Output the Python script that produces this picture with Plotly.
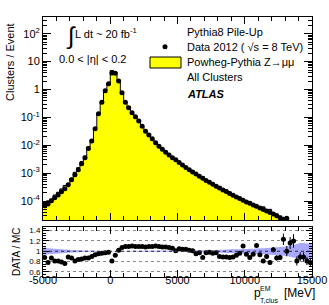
import numpy as np
import plotly.graph_objects as go

# ---------------- data ----------------
bin_edges = np.arange(-5000, 15001, 250)
centers = (bin_edges[:-1] + bin_edges[1:]) / 2

data_vals = [
    6.8e-5, 7.9e-5, 1.02e-4, 1.32e-4, 1.66e-4, 2.14e-4, 2.75e-4, 3.8e-4, 5.75e-4, 8.7e-4,
    1.32e-3, 2.19e-3, 3.55e-3, 7.6e-3, 1.41e-2, 3.9e-2, 0.135, 0.35, 0.91, 1.6,
    3.9, 3.8, 2.0, 0.76, 0.35, 0.22, 0.148, 0.105, 0.074, 0.048,
    0.032, 0.0234, 0.0170, 0.0123, 0.0093, 0.0072, 0.0056, 0.0045, 0.0036, 0.0030,
    0.0024, 0.00195, 0.00158, 0.00132, 0.00110, 9.3e-4, 7.8e-4, 6.6e-4, 5.5e-4, 4.7e-4,
    4.0e-4, 3.4e-4, 2.95e-4, 2.5e-4, 2.2e-4, 1.86e-4, 1.62e-4, 1.41e-4, 1.23e-4, 1.07e-4,
    9.3e-5, 8.3e-5, 7.2e-5, 6.5e-5, 5.6e-5, 5.0e-5, 4.4e-5, 3.9e-5, 3.4e-5, 2.95e-5,
    2.5e-5, 2.2e-5, 2.4e-5, 1.65e-5, 1.5e-5, 1.2e-5, 1.1e-5, 9e-6, 8e-6, 7e-6,
]

ratio_vals = [
    0.88, 0.78, 0.87, 0.81, 0.81, 0.79, 0.76, 0.89, 0.87, 0.81,
    0.84, 0.85, 0.87, 0.87, 0.90, 0.93, 0.95, 0.96, 0.97, 0.98,
    0.81, 0.92, 1.02, 1.07, 1.09, 1.09, 1.10, 1.09, 1.09, 1.09,
    1.08, 1.09, 1.09, 1.10, 1.09, 1.08, 1.08, 1.07, 1.06, 1.01,
    1.05, 1.04, 1.04, 1.02, 1.01, 0.95, 0.97, 0.88, 0.97, 0.98,
    0.96, 0.97, 0.90, 0.89, 0.89, 0.88, 0.89, 0.92, 0.96, 1.10,
    0.94, 0.88, 0.94, 1.11, 0.93, 0.81, 0.90, 0.78, 1.03, 0.87,
    0.88, 1.23, 1.00, 1.16, 1.20, 0.81, 0.89, 0.89, 0.81, 0.78,
]

data_stat_rel = [
    0.03, 0.03, 0.025, 0.025, 0.02, 0.02, 0.02, 0.015, 0.015, 0.012,
    0.01, 0.01, 0.008, 0.006, 0.005, 0.004, 0.003, 0.003, 0.003, 0.003,
    0.003, 0.003, 0.003, 0.003, 0.003, 0.003, 0.003, 0.004, 0.004, 0.005,
    0.005, 0.006, 0.006, 0.007, 0.007, 0.008, 0.008, 0.009, 0.009, 0.01,
    0.01, 0.011, 0.012, 0.013, 0.014, 0.015, 0.016, 0.017, 0.018, 0.019,
    0.02, 0.021, 0.022, 0.023, 0.024, 0.025, 0.026, 0.027, 0.028, 0.03,
    0.03, 0.03, 0.035, 0.035, 0.04, 0.04, 0.045, 0.045, 0.05, 0.055,
    0.06, 0.09, 0.1, 0.1, 0.11, 0.11, 0.1, 0.1, 0.1, 0.1,
]

mc_band_rel = [
    0.07, 0.06, 0.055, 0.05, 0.045, 0.04, 0.035, 0.03, 0.025, 0.02,
    0.018, 0.015, 0.012, 0.01, 0.01, 0.008, 0.006, 0.005, 0.005, 0.005,
    0.005, 0.005, 0.005, 0.005, 0.006, 0.006, 0.007, 0.007, 0.008, 0.008,
    0.008, 0.009, 0.009, 0.009, 0.01, 0.01, 0.01, 0.011, 0.011, 0.012,
    0.012, 0.013, 0.014, 0.015, 0.016, 0.017, 0.018, 0.019, 0.02, 0.022,
    0.024, 0.026, 0.028, 0.03, 0.032, 0.034, 0.036, 0.038, 0.04, 0.043,
    0.045, 0.047, 0.05, 0.053, 0.056, 0.06, 0.064, 0.068, 0.072, 0.077,
    0.082, 0.088, 0.095, 0.105, 0.12, 0.14, 0.16, 0.16, 0.15, 0.15,
]

major_y_vals = [1e-4, 1e-3, 1e-2, 1e-1, 1, 10, 100]
major_y_text = ["10<sup>-4</sup>", "10<sup>-3</sup>", "10<sup>-2</sup>", "10<sup>-1</sup>",
                "1", "10", "10<sup>2</sup>"]
x_tick_vals = [-5000, 0, 5000, 10000, 15000]
x_tick_text = ["-5000", "0", "5000", "10000", "15000"]
ratio_tick_vals = [0.6, 0.8, 1.0, 1.2, 1.4]
ratio_tick_text = ["0.6", "0.8", "1", "1.2", "1.4"]

# ---------------- derived ----------------
data = np.array(data_vals)
ratio = np.array(ratio_vals)
mc = data / ratio
band = np.array(mc_band_rel)
data_err = data * np.array(data_stat_rel)
ratio_err = ratio * np.array(data_stat_rel)

step_x = list(bin_edges)
def step_y(v):
    v = list(v)
    return v + [v[-1]]

FONT = "Liberation Sans, Arial, sans-serif"
BAND = "rgba(110,110,255,0.6)"

fig = go.Figure()

fig.add_trace(go.Bar(x=centers, y=mc, width=250, marker=dict(color="#ffff00", line=dict(width=0)),
                     xaxis="x", yaxis="y", showlegend=False, hoverinfo="skip"))
fig.add_trace(go.Scatter(x=step_x, y=step_y(mc * (1 - band)), mode="lines", line=dict(width=0, shape="hv"),
                         xaxis="x", yaxis="y", showlegend=False, hoverinfo="skip"))
fig.add_trace(go.Scatter(x=step_x, y=step_y(mc * (1 + band)), mode="lines", line=dict(width=0, shape="hv"),
                         fill="tonexty", fillcolor=BAND, xaxis="x", yaxis="y", showlegend=False, hoverinfo="skip"))
fig.add_trace(go.Scatter(x=step_x, y=step_y(mc), mode="lines", line=dict(color="black", width=1, shape="hv"),
                         xaxis="x", yaxis="y", showlegend=False, hoverinfo="skip"))
fig.add_trace(go.Scatter(x=centers, y=data, mode="markers",
                         marker=dict(color="black", size=5),
                         error_y=dict(type="data", array=data_err, color="black", thickness=1, width=0),
                         xaxis="x", yaxis="y", showlegend=False))

fig.add_trace(go.Scatter(x=step_x, y=step_y(1 - band), mode="lines", line=dict(width=0, shape="hv"),
                         xaxis="x2", yaxis="y2", showlegend=False, hoverinfo="skip"))
fig.add_trace(go.Scatter(x=step_x, y=step_y(1 + band), mode="lines", line=dict(width=0, shape="hv"),
                         fill="tonexty", fillcolor=BAND, xaxis="x2", yaxis="y2", showlegend=False, hoverinfo="skip"))
fig.add_trace(go.Scatter(x=centers, y=ratio, mode="markers",
                         marker=dict(color="black", size=5),
                         error_y=dict(type="data", array=ratio_err, color="black", thickness=1, width=0),
                         xaxis="x2", yaxis="y2", showlegend=False))

L, R, T, B = 43, 17, 17, 28
W, H = 329, 305
PW, PH = W - L - R, H - T - B
def px(x): return (x - L) / PW
def py(y): return (H - B - y) / PH

main_bottom = py(220)
ratio_top = py(227)

axis_common = dict(showline=True, linecolor="black", linewidth=1, mirror="allticks",
                   ticks="inside", tickcolor="black", zeroline=False, showgrid=False,
                   automargin=False)

minor_log = [m * 10.0 ** e for e in range(-5, 3) for m in range(2, 10)]

fig.update_layout(
    width=W, height=H, margin=dict(l=L, r=R, t=T, b=B, autoexpand=False),
    paper_bgcolor="white", plot_bgcolor="white", bargap=0,
    font=dict(family=FONT, size=11, color="black"),
    xaxis=dict(domain=[0, 1], anchor="y", range=[-5000, 15000], matches="x2",
               tickvals=x_tick_vals, showticklabels=False, ticklen=7,
               minor=dict(dtick=1000, ticks="inside", ticklen=4, tickcolor="black"),
               **axis_common),
    yaxis=dict(domain=[main_bottom, 1], anchor="x", type="log", range=[-4.68, 2.60],
               tickvals=major_y_vals, ticktext=major_y_text, ticklen=8,
               tickfont=dict(size=11),
               minor=dict(tickmode="array", tickvals=minor_log, ticks="inside", ticklen=4, tickcolor="black"),
               **axis_common),
    xaxis2=dict(domain=[0, 1], anchor="y2", range=[-5000, 15000],
                tickvals=x_tick_vals, ticktext=x_tick_text, ticklen=7, tickfont=dict(size=11),
                ticklabelstandoff=-7,
                minor=dict(dtick=1000, ticks="inside", ticklen=4, tickcolor="black"),
                **axis_common),
    yaxis2=dict(domain=[0, ratio_top], anchor="x2", range=[0.5, 1.47],
                tickvals=ratio_tick_vals, ticktext=ratio_tick_text, ticklen=6,
                tickfont=dict(size=8),
                minor=dict(dtick=0.05, ticks="inside", ticklen=3, tickcolor="black"),
                showline=True, linecolor="black", linewidth=1, mirror="allticks",
                ticks="inside", tickcolor="black", zeroline=False, automargin=False,
                showgrid=True, gridcolor="#888888", griddash="dot", gridwidth=1),
)

fig.add_shape(type="line", xref="x2", yref="y2", x0=-5000, x1=15000, y0=1, y1=1,
              line=dict(color="#333333", width=1, dash="dot"), layer="above")

ann = []
def text(x, y, s, size=11, anchor="left", **kw):
    ann.append(dict(x=px(x), y=py(y), xref="paper", yref="paper", text=s, showarrow=False,
                    xanchor=anchor, yanchor="middle", font=dict(family=FONT, size=size, color="black"), **kw))

text(64, 36, "∫", size=24)
text(73, 33, "L dt ~ 20 fb<sup>-1</sup>", size=11)
text(57, 58.5, "0.0 < |η| < 0.2", size=11)
text(185, 31.5, "Pythia8 Pile-Up")
text(185, 46.7, "Data 2012 ( √s = 8 TeV)")
text(185, 62.3, "Powheg-Pythia Z→μμ")
text(185, 77.3, "All Clusters")
text(185, 94, "<b><i>ATLAS</i></b>")
ann.append(dict(x=px(10), y=py(62), xref="paper", yref="paper", text="Clusters / Event",
                textangle=-90, showarrow=False, xanchor="center", yanchor="middle",
                font=dict(family=FONT, size=11, color="black")))
ann.append(dict(x=px(16), y=py(252), xref="paper", yref="paper", text="DATA / MC",
                textangle=-90, showarrow=False, xanchor="center", yanchor="middle",
                font=dict(family=FONT, size=10, color="black")))
text(252, 293, "p", size=12)
text(258, 288, "EM", size=7)
text(258, 300, "T,clus", size=7)
text(282, 293, "[MeV]", size=12)
fig.update_layout(annotations=ann)

fig.add_shape(type="circle", xref="paper", yref="paper", x0=px(162.5), x1=px(167.5),
              y0=py(49.2), y1=py(44.2), fillcolor="black", line=dict(width=0))
fig.add_shape(type="rect", xref="paper", yref="paper", x0=px(150), x1=px(181),
              y0=py(68), y1=py(57), fillcolor="#ffff00", line=dict(color="black", width=1))

fig.write_html("out.html", config={"displayModeBar": False},
               post_script="document.body.style.margin='0px';document.body.style.padding='0px';")
